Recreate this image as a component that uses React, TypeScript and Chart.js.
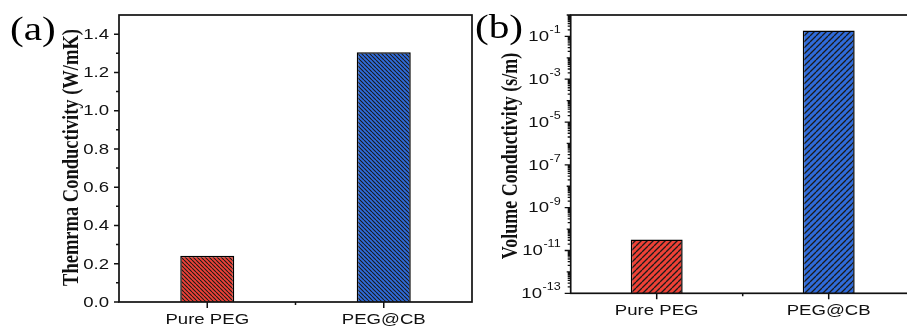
import React, { useEffect, useRef } from "react";
import { Chart, registerables } from "chart.js";

Chart.register(...registerables);

const categories = ["Pure PEG", "PEG@CB"];
const thermalConductivity = [0.242, 1.305];
const volumeConductivity = [3.3e-11, 0.19];
const thermalTicks = [0, 0.2, 0.4, 0.6, 0.8, 1.0, 1.2, 1.4];
const thermalMinorTicks = [0.1, 0.3, 0.5, 0.7, 0.9, 1.1, 1.3];
const volumeTickExponents = [-13, -11, -9, -7, -5, -3, -1];
const thermalTitle = "Themrma Conductivity (W/mK)";
const volumeTitle = "Volume Conductivity (s/m)";
const panelLabels = ["(a)", "(b)"];

const SX = 1.23;
const SANS = '"Liberation Sans", Arial, sans-serif';
const SERIF = '"Liberation Serif", "Times New Roman", serif';
const INK = "#111";

function makePattern(color: string, spacing: number, dir: "/" | "\\", lw: number) {
  const c = document.createElement("canvas");
  c.width = spacing;
  c.height = spacing;
  const g = c.getContext("2d")!;
  g.fillStyle = color;
  g.fillRect(0, 0, spacing, spacing);
  g.strokeStyle = "#1a1a1a";
  g.lineWidth = lw;
  g.beginPath();
  for (let k = -1; k <= 1; k++) {
    if (dir === "/") {
      g.moveTo(k * spacing, spacing);
      g.lineTo(k * spacing + spacing, 0);
    } else {
      g.moveTo(k * spacing, 0);
      g.lineTo(k * spacing + spacing, spacing);
    }
  }
  g.stroke();
  return g.createPattern(c, "repeat")!;
}

function text(
  ctx: CanvasRenderingContext2D,
  s: string,
  x: number,
  y: number,
  font: string,
  align: CanvasTextAlign,
  baseline: CanvasTextBaseline,
  sx = SX,
  color = INK
) {
  ctx.save();
  ctx.translate(x, y);
  ctx.scale(sx, 1);
  ctx.font = font;
  ctx.textAlign = align;
  ctx.textBaseline = baseline;
  ctx.fillStyle = color;
  ctx.fillText(s, 0, 0);
  ctx.restore();
}

function rotatedTitle(ctx: CanvasRenderingContext2D, s: string, cx: number, cy: number, font: string) {
  ctx.save();
  ctx.translate(cx, cy);
  ctx.scale(SX, 1);
  ctx.rotate(-Math.PI / 2);
  ctx.font = font;
  ctx.textAlign = "center";
  ctx.textBaseline = "middle";
  ctx.fillStyle = INK;
  ctx.fillText(s, 0, 0);
  ctx.restore();
}

function drawFrameAndXAxis(chart: any, xLabelBaseline: number) {
  const ctx: CanvasRenderingContext2D = chart.ctx;
  const a = chart.chartArea;
  const xs = chart.scales.x;
  ctx.save();
  ctx.strokeStyle = INK;
  ctx.lineWidth = 1.7;
  ctx.strokeRect(a.left, a.top, a.right - a.left, a.bottom - a.top);
  ctx.lineWidth = 1.5;
  ctx.beginPath();
  categories.forEach((_, i) => {
    const px = xs.getPixelForValue(i);
    ctx.moveTo(px, a.bottom);
    ctx.lineTo(px, a.bottom + 6);
  });
  for (let i = 0; i < categories.length - 1; i++) {
    const px = (xs.getPixelForValue(i) + xs.getPixelForValue(i + 1)) / 2;
    ctx.moveTo(px, a.bottom);
    ctx.lineTo(px, a.bottom + 3);
  }
  ctx.stroke();
  ctx.restore();
  categories.forEach((c, i) => {
    text(ctx, c, xs.getPixelForValue(i), xLabelBaseline, `15.5px ${SANS}`, "center", "alphabetic", 1.2);
  });
}

function ChartA() {
  const ref = useRef<HTMLCanvasElement>(null);
  useEffect(() => {
    const canvas = ref.current!;
    const red = makePattern("#EE4136", 4, "\\", 1.05);
    const blue = makePattern("#2F6BDA", 4, "\\", 1.05);
    const plugin = {
      id: "decorA",
      afterDatasetsDraw(chart: any) {
        const ctx: CanvasRenderingContext2D = chart.ctx;
        const a = chart.chartArea;
        const ys = chart.scales.y;
        drawFrameAndXAxis(chart, 324);
        ctx.save();
        ctx.strokeStyle = INK;
        ctx.lineWidth = 1.5;
        ctx.beginPath();
        thermalTicks.forEach((v) => {
          const py = ys.getPixelForValue(v);
          ctx.moveTo(a.left - 5, py);
          ctx.lineTo(a.left, py);
        });
        thermalMinorTicks.forEach((v) => {
          const py = ys.getPixelForValue(v);
          ctx.moveTo(a.left - 3, py);
          ctx.lineTo(a.left, py);
        });
        ctx.stroke();
        ctx.restore();
        thermalTicks.forEach((v) => {
          text(ctx, v.toFixed(1), a.left - 10, ys.getPixelForValue(v) + 0.5, `15.5px ${SANS}`, "right", "middle", 1.2);
        });
        rotatedTitle(ctx, thermalTitle, 72, 157.5, `bold 18.5px ${SERIF}`);
        text(ctx, panelLabels[0], 10, 40, `33px ${SERIF}`, "left", "alphabetic", 1.25, "#000");
      },
    };
    const chart = new Chart(canvas, {
      type: "bar",
      data: {
        labels: categories,
        datasets: [
          {
            data: thermalConductivity,
            backgroundColor: [red, blue],
            borderColor: "#000",
            borderWidth: 1.5,
            barPercentage: 0.306,
            categoryPercentage: 1,
          },
        ],
      },
      options: {
        animation: false,
        responsive: false,
        maintainAspectRatio: false,
        events: [],
        layout: { padding: { left: 119, right: 2, top: 15, bottom: 30 } },
        plugins: { legend: { display: false }, tooltip: { enabled: false } },
        scales: {
          x: { display: false, offset: true },
          y: { display: false, min: 0, max: 1.5 },
        },
      },
      plugins: [plugin],
    });
    return () => chart.destroy();
  }, []);
  return (
    <canvas
      ref={ref}
      width={474}
      height={332}
      style={{ position: "absolute", left: 0, top: 0, width: 474, height: 332 }}
    />
  );
}

function ChartB() {
  const ref = useRef<HTMLCanvasElement>(null);
  useEffect(() => {
    const canvas = ref.current!;
    const red = makePattern("#EE4136", 6, "/", 1.3);
    const blue = makePattern("#2F6BDA", 6, "/", 1.3);
    const plugin = {
      id: "decorB",
      afterDatasetsDraw(chart: any) {
        const ctx: CanvasRenderingContext2D = chart.ctx;
        const a = chart.chartArea;
        const ys = chart.scales.y;
        drawFrameAndXAxis(chart, 314.5);
        ctx.save();
        ctx.strokeStyle = INK;
        ctx.lineWidth = 1.3;
        ctx.beginPath();
        for (let e = -13; e <= 0; e++) {
          const major = e % 2 !== 0;
          const py = ys.getPixelForValue(Math.pow(10, e));
          ctx.moveTo(a.left - (major ? 6 : 4), py);
          ctx.lineTo(a.left, py);
          if (e < 0) {
            for (let k = 2; k <= 9; k++) {
              const pk = ys.getPixelForValue(k * Math.pow(10, e));
              if (pk < a.top) continue;
              ctx.moveTo(a.left - 3, pk);
              ctx.lineTo(a.left, pk);
            }
          }
        }
        ctx.stroke();
        ctx.restore();
        volumeTickExponents.forEach((e) => {
          const py = ys.getPixelForValue(Math.pow(10, e));
          const xr = a.left - 10;
          const supFont = `10.5px ${SANS}`;
          ctx.save();
          ctx.font = supFont;
          const w = ctx.measureText(String(e)).width * 1.2;
          ctx.restore();
          text(ctx, String(e), xr, py - 6, supFont, "right", "middle", 1.2);
          text(ctx, "10", xr - w - 0.5, py + 0.5, `15.5px ${SANS}`, "right", "middle", 1.2);
        });
        rotatedTitle(ctx, volumeTitle, 37.5, 156, `bold 18px ${SERIF}`);
        text(ctx, panelLabels[1], 1, 38, `33px ${SERIF}`, "left", "alphabetic", 1.25, "#000");
      },
    };
    const chart = new Chart(canvas, {
      type: "bar",
      data: {
        labels: categories,
        datasets: [
          {
            data: volumeConductivity,
            backgroundColor: [red, blue],
            borderColor: "#000",
            borderWidth: 1.5,
            barPercentage: 0.302,
            categoryPercentage: 1,
          },
        ],
      },
      options: {
        animation: false,
        responsive: false,
        maintainAspectRatio: false,
        events: [],
        layout: { padding: { left: 96.7, right: 5.3, top: 15, bottom: 38.7 } },
        plugins: { legend: { display: false }, tooltip: { enabled: false } },
        scales: {
          x: { display: false, offset: true },
          y: { display: false, type: "logarithmic", min: 1e-13, max: 1 },
        },
      },
      plugins: [plugin],
    });
    return () => chart.destroy();
  }, []);
  return (
    <canvas
      ref={ref}
      width={446}
      height={332}
      style={{ position: "absolute", left: 474, top: 0, width: 446, height: 332 }}
    />
  );
}

export default function App() {
  return (
    <div
      style={{
        position: "absolute",
        left: 0,
        top: 0,
        width: 907,
        height: 332,
        overflow: "hidden",
        background: "#fff",
      }}
    >
      <ChartA />
      <ChartB />
    </div>
  );
}
